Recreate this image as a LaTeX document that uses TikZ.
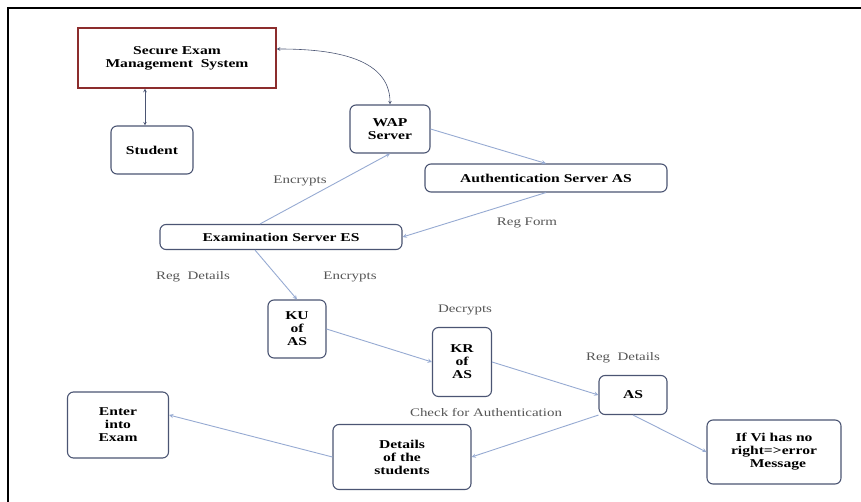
\documentclass[tikz,border=0pt]{standalone}
\usepackage{fontspec}
\setmainfont{Liberation Serif}[FakeStretch=1.3]
\usepackage{tikz}
\usetikzlibrary{arrows}

\definecolor{boxline}{RGB}{75,85,115}
\definecolor{sysline}{RGB}{140,45,45}
\definecolor{flow}{RGB}{150,170,210}
\definecolor{lbltext}{RGB}{85,85,85}

\begin{document}
\begin{tikzpicture}[x = 1pt, y = -1pt, > = stealth, semithick,
    box/.style = {draw=boxline, line width=1.1pt, rounded corners=6pt, fill=white, align=center, font=\fontsize{12}{13}\selectfont\bfseries, inner sep=2pt},
    lbl/.style = {text=lbltext, font=\fontsize{11.5}{13}\selectfont, inner sep=0pt},
    flw/.style = {draw=flow, line width=0.9pt, ->}]
    \useasboundingbox (0, 0) rectangle (861, 502);
    \draw[line width=1.6pt] (8, 502) -- (8, 8) -- (861, 8);

    \node[box, draw=sysline, line width=1.4pt, rounded corners=0pt, minimum width=198, minimum height=60] (sems) at (177, 58) {Secure Exam\\Management~ System};
    \node[box, minimum width=82, minimum height=48] (student) at (152, 150) {Student};
    \node[box, minimum width=80, minimum height=48] (wap) at (390, 129) {WAP\\Server};
    \node[box, minimum width=242, minimum height=28] (auth) at (546, 178) {Authentication Server AS};
    \node[box, minimum width=242, minimum height=25] (es) at (281, 237) {Examination Server ES};
    \node[box, minimum width=58, minimum height=58] (ku) at (297, 329) {KU\\of\\AS};
    \node[box, minimum width=59, minimum height=69] (kr) at (462, 362) {KR\\of\\AS};
    \node[box, minimum width=68, minimum height=39] (as) at (633, 395) {AS};
    \node[box, minimum width=134, minimum height=64] (ifvi) at (774, 452) {If Vi has no\\right=>error\\\ \ Message};
    \node[box, minimum width=138, minimum height=65] (details) at (402, 457) {Details\\of the\\students};
    \node[box, minimum width=101, minimum height=66] (enter) at (118, 425) {Enter\\into\\Exam};

    \node[lbl] (encA) at (300, 181) {Encrypts};
    \node[lbl] (regform) at (527, 223) {Reg Form};
    \node[lbl] (regdetA) at (193, 277) {Reg~ Details};
    \node[lbl] (encB) at (350, 277) {Encrypts};
    \node[lbl] (decr) at (465, 310) {Decrypts};
    \node[lbl] (regdetB) at (623, 358) {Reg~ Details};
    \node[lbl] (check) at (486, 413) {Check for Authentication};

    \draw[<->, draw=boxline] ([yshift=9pt]sems.east) to[out=0, in=90] (wap.north);
    \draw[<->, draw=boxline] ([xshift=-32pt]sems.south) -- ([xshift=-7pt]student.north);
    \draw[flw] (wap.east) -- (auth.north);
    \draw[flw] (auth.south) -- (es.east);
    \draw[flw] ([xshift=-21pt]es.north) -- (wap.south);
    \draw[flw] ([xshift=-26pt]es.south) -- (ku.north);
    \draw[flw] (ku.east) -- (kr.west);
    \draw[flw] (kr.east) -- (as.west);
    \draw[flw] (as.south west) -- (details.east);
    \draw[flw] (as.south) -- (ifvi.west);
    \draw[flw] (details.west) -- ([yshift=10pt]enter.east);
\end{tikzpicture}
\end{document}
